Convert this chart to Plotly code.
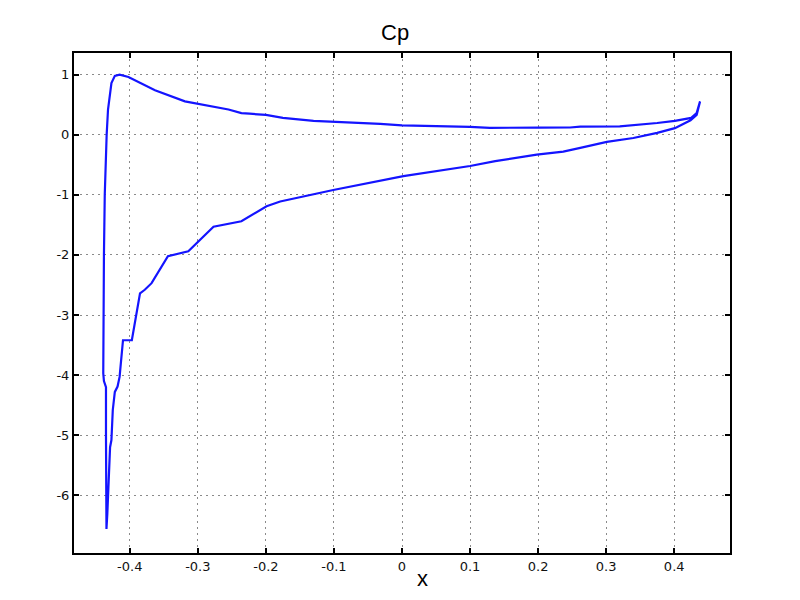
import plotly.graph_objects as go

# Cp distribution traced from TE along upper branch, around LE, back along lower branch
x_vals = [0.438, 0.433, 0.425, 0.401, 0.375, 0.34, 0.32, 0.262, 0.247, 0.2, 0.144, 0.129, 0.1,
          0.0, -0.032, -0.101, -0.13, -0.175, -0.2, -0.224, -0.236, -0.255, -0.302, -0.319,
          -0.363, -0.378, -0.402, -0.415, -0.422, -0.427, -0.429, -0.432, -0.434, -0.4368,
          -0.438, -0.439, -0.439, -0.438, -0.435, -0.435, -0.434, -0.4343,
          -0.433, -0.432, -0.431, -0.429, -0.427, -0.425, -0.425, -0.422, -0.418, -0.415,
          -0.41, -0.397, -0.393, -0.385, -0.378, -0.368, -0.344, -0.314, -0.277, -0.236,
          -0.199, -0.179, -0.101, 0.002, 0.1, 0.137, 0.198, 0.237, 0.262, 0.301, 0.34,
          0.375, 0.401, 0.424, 0.433, 0.438]
cp_vals = [0.555, 0.36, 0.28, 0.23, 0.195, 0.167, 0.14, 0.135, 0.12, 0.117, 0.11, 0.115, 0.13,
           0.155, 0.18, 0.21, 0.23, 0.28, 0.33, 0.35, 0.36, 0.42, 0.51, 0.555,
           0.74, 0.83, 0.96, 1.0, 0.98, 0.86, 0.69, 0.42, 0.0, -1.0,
           -2.0, -2.97, -3.97, -4.1, -4.2, -5.0, -6.0, -6.56,
           -6.3, -6.03, -5.61, -5.2, -5.08, -4.75, -4.58, -4.28, -4.19, -4.03,
           -3.42, -3.42, -3.14, -2.64, -2.58, -2.47, -2.02, -1.94, -1.53, -1.44,
           -1.19, -1.11, -0.92, -0.69, -0.52, -0.44, -0.33, -0.28, -0.22, -0.12, -0.055,
           0.03, 0.11, 0.24, 0.33, 0.555]

x_ticks = [-0.4, -0.3, -0.2, -0.1, 0, 0.1, 0.2, 0.3, 0.4]
x_ticktext = ["-0.4", "-0.3", "-0.2", "-0.1", "0", "0.1", "0.2", "0.3", "0.4"]
y_ticks = [1, 0, -1, -2, -3, -4, -5, -6]
y_ticktext = ["1", "0", "-1", "-2", "-3", "-4", "-5", "-6"]

# page body has an 8px margin in the browser; compensate
L, R, T, B = 66, 78, 45, 55
pw, ph = 800 - L - R, 600 - T - B

fig = go.Figure()
fig.add_trace(go.Scatter(x=x_vals, y=cp_vals, mode="lines",
                         line=dict(color="#1414ff", width=2.2), showlegend=False))

axis_common = dict(showline=True, linecolor="black", linewidth=2, mirror="ticks",
                   ticks="inside", ticklen=5, tickwidth=2, tickcolor="black",
                   showgrid=True, gridcolor="#8a8a8a", griddash="2px,4px", gridwidth=1,
                   zeroline=False, tickfont=dict(family="DejaVu Sans", size=13, color="#111"))

fig.update_xaxes(range=[-0.482, 0.482], tickvals=x_ticks, ticktext=x_ticktext, **axis_common)
fig.update_yaxes(range=[-6.96, 1.36], tickvals=y_ticks, ticktext=y_ticktext, **axis_common)

fig.update_layout(
    width=800, height=600,
    margin=dict(l=L, r=R, t=T, b=B),
    paper_bgcolor="white", plot_bgcolor="white",
    font=dict(family="Liberation Sans", color="black"),
)
fig.add_annotation(text="Cp", x=(387 - L) / pw, y=(T + ph - 25) / ph, xref="paper", yref="paper",
                   showarrow=False, font=dict(size=22, family="Liberation Sans", color="black"),
                   xanchor="center", yanchor="middle")
fig.add_annotation(text="x", x=(414 - L) / pw, y=(T + ph - 570) / ph, xref="paper", yref="paper",
                   showarrow=False, font=dict(size=22, family="Liberation Sans", color="black"),
                   xanchor="center", yanchor="middle")

fig.write_html("out.html")
